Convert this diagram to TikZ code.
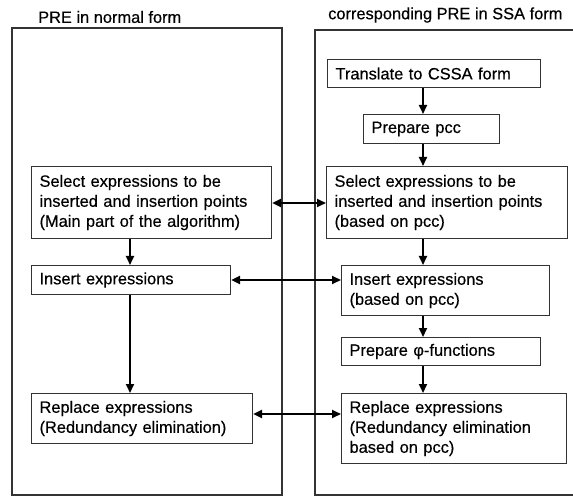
\documentclass[tikz,border=0pt]{standalone}
\usepackage{fontspec}
\setmainfont{Liberation Sans}[FakeBold=0.4]
\usetikzlibrary{arrows.meta}
\begin{document}
\begin{tikzpicture}[x=1pt,y=-1pt,
  box/.style={draw=black!80, line width=1.1pt, align=left, inner xsep=8pt, inner ysep=0pt,
    anchor=north west, font=\fontsize{16.4}{20}\selectfont, text=black},
  panel/.style={draw=black!80, line width=1.1pt},
  ttl/.style={font=\fontsize{16.4}{20}\selectfont, anchor=west, inner sep=0pt, text=black},
  arr/.style={line width=2.1pt, -{Triangle[length=9pt,width=8pt]}},
  darr/.style={line width=2.1pt, {Triangle[length=9pt,width=8pt]}-{Triangle[length=9pt,width=8pt]}}]
\clip (0,0) rectangle (573,497);
\useasboundingbox (0,0) rectangle (573,497);
% panels
\draw[panel] (12,28) rectangle (282,495);
\draw[panel] (315,30) rectangle (600,495);
\node[ttl] (t1) at (38,17) {PRE in normal form};
\node[ttl] (t2) at (328,15) {corresponding PRE in SSA form};
% left boxes
\node[box, text width=224pt, minimum height=72pt] (L1) at (31,166)
  {Select expressions to be\\inserted and insertion points\\(Main part of the algorithm)};
\node[box, text width=183pt, minimum height=29pt] (L2) at (31,265) {Insert expressions};
\node[box, text width=205pt, minimum height=50pt] (L3) at (31,393)
  {Replace expressions\\(Redundancy elimination)};
% right boxes
\node[box, text width=197pt, minimum height=28pt] (R1) at (327,59) {Translate to CSSA form};
\node[box, text width=120pt, minimum height=29pt] (R2) at (363,114) {Prepare pcc};
\node[box, text width=225pt, minimum height=72pt] (R3) at (326,166)
  {Select expressions to be\\inserted and insertion points\\(based on pcc)};
\node[box, text width=192pt, minimum height=50pt] (R4) at (341,265)
  {Insert expressions\\(based on pcc)};
\node[box, text width=183pt, minimum height=28pt] (R5) at (341,337) {Prepare φ-functions};
\node[box, text width=209pt, minimum height=70pt] (R6) at (341,393)
  {Replace expressions\\(Redundancy elimination\\based on pcc)};
% helper coordinates
\coordinate (xl) at (130,0);
\coordinate (xr) at (423,0);
\coordinate (y1) at (0,203);
\coordinate (y2) at (0,280);
\coordinate (y3) at (0,414);
% vertical arrows
\draw[arr] (L1.south -| xl) -- (L2.north -| xl);
\draw[arr] (L2.south -| xl) -- (L3.north -| xl);
\draw[arr] (R1.south -| xr) -- (R2.north -| xr);
\draw[arr] (R2.south -| xr) -- (R3.north -| xr);
\draw[arr] (R3.south -| xr) -- (R4.north -| xr);
\draw[arr] (R4.south -| xr) -- (R5.north -| xr);
\draw[arr] (R5.south -| xr) -- (R6.north -| xr);
% horizontal double arrows
\draw[darr] (L1.east |- y1) -- (R3.west |- y1);
\draw[darr] (L2.east |- y2) -- (R4.west |- y2);
\draw[darr] (L3.east |- y3) -- (R6.west |- y3);
\end{tikzpicture}
\end{document}
